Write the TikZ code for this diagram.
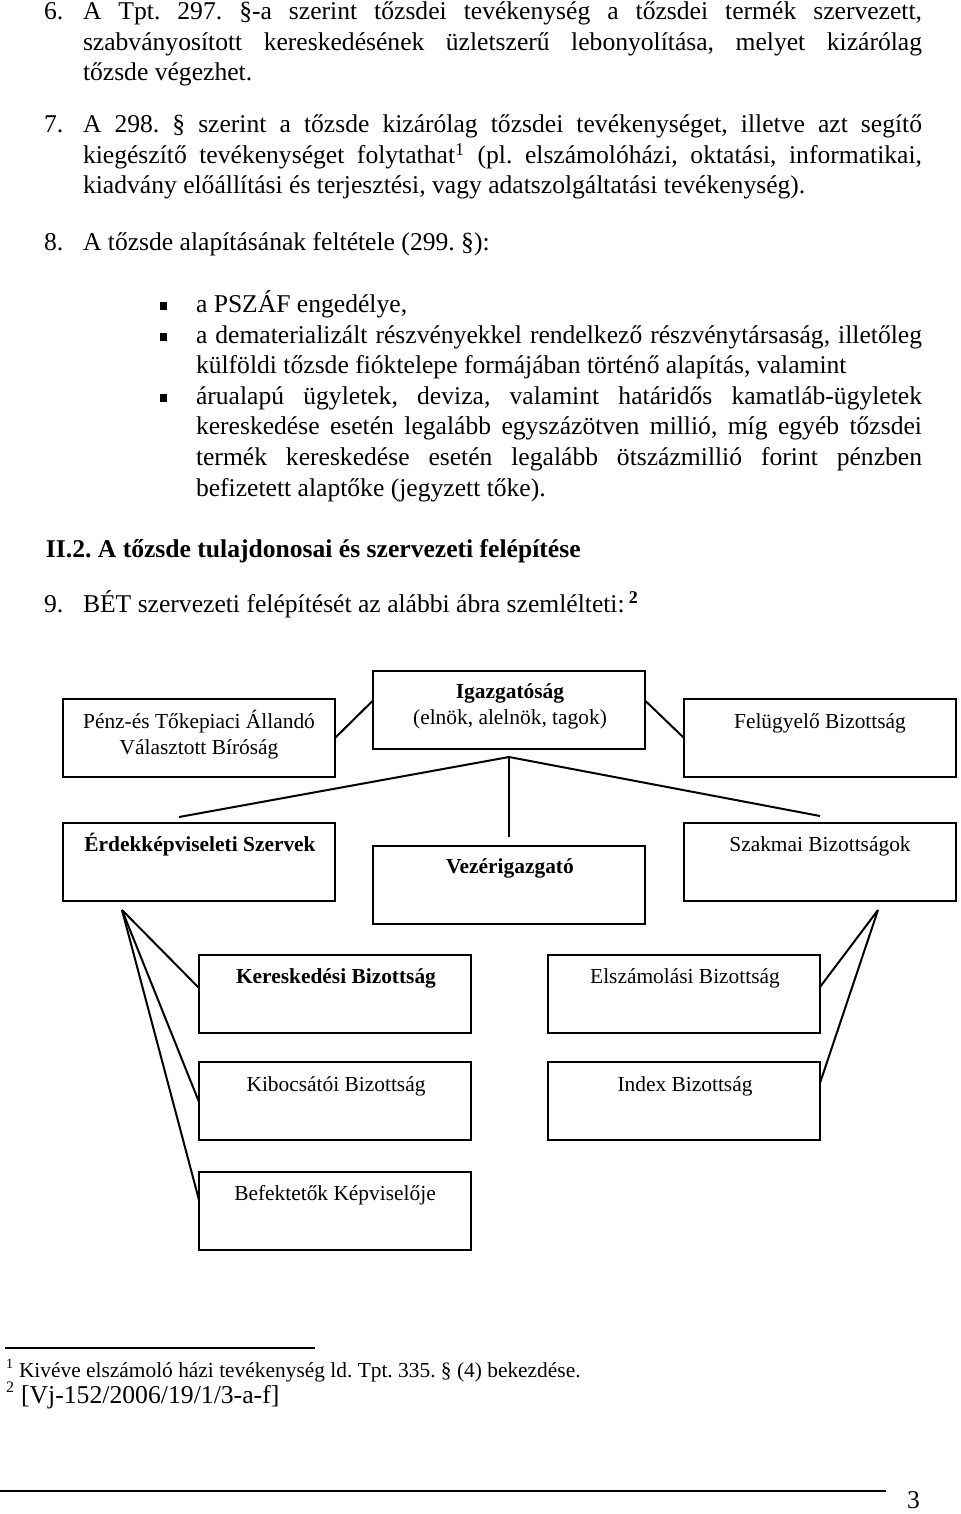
\documentclass[tikz,border=0pt]{standalone}
\usepackage{fontspec}
\setmainfont{Liberation Serif}
\usetikzlibrary{calc}
\frenchspacing
\tikzset{
  box/.style={draw, line width=1pt, minimum width=136pt, minimum height=39pt, inner sep=0pt, outer sep=0pt, anchor=north west},
  conn/.style={line width=1pt},
  body/.style={anchor=base west, inner sep=0pt, outer sep=0pt, font=\fontsize{12.8}{15}\selectfont},
  head/.style={anchor=base west, inner sep=0pt, outer sep=0pt, font=\fontsize{12.8}{15}\selectfont\bfseries},
  btxt/.style={anchor=base, inner sep=0pt, outer sep=0pt, font=\fontsize{10.7}{12}\selectfont},
  bbtxt/.style={btxt, font=\fontsize{10.7}{12}\selectfont\bfseries},
  fn/.style={anchor=base west, inner sep=0pt, outer sep=0pt},
}
\newcommand{\jl}[1]{\makebox[419.5pt][s]{#1}}
\newcommand{\jb}[1]{\makebox[363pt][s]{#1}}
\begin{document}
\begin{tikzpicture}[x=0.5pt,y=-0.5pt]
\useasboundingbox[fill=white] (0,0) rectangle (960,1514);

% --- paragraph 6 ---
\node[body] (n6) at (44,20) {6.};
\node[body] (p6a) at (83,20) {\jl{A Tpt. 297. §-a szerint tőzsdei tevékenység a tőzsdei termék szervezett,}};
\node[body] (p6b) at (83,51) {\jl{szabványosított kereskedésének üzletszerű lebonyolítása, melyet kizárólag}};
\node[body] (p6c) at (83,81) {tőzsde végezhet.};

% --- paragraph 7 ---
\node[body] (n7) at (44,133) {7.};
\node[body] (p7a) at (83,133) {\jl{A 298. § szerint a tőzsde kizárólag tőzsdei tevékenységet, illetve azt segítő}};
\node[body] (p7b) at (83,164) {\jl{kiegészítő tevékenységet folytathat\textsuperscript{1} (pl. elszámolóházi, oktatási, informatikai,}};
\node[body] (p7c) at (83,194) {kiadvány előállítási és terjesztési, vagy adatszolgáltatási tevékenység).};

% --- paragraph 8 ---
\node[body] (n8) at (44,250) {8.};
\node[body] (p8) at (83,250) {A tőzsde alapításának feltétele (299. §):};

\fill (160,302) rectangle (167,309.5);
\fill (160,333) rectangle (167,340.5);
\fill (160,394) rectangle (167,401.5);
\node[body] (b1) at (196,312) {a PSZÁF engedélye,};
\node[body] (b2a) at (196,343) {\jb{a dematerializált részvényekkel rendelkező részvénytársaság, illetőleg}};
\node[body] (b2b) at (196,373) {külföldi tőzsde fióktelepe formájában történő alapítás, valamint};
\node[body] (b3a) at (196,404) {\jb{árualapú ügyletek, deviza, valamint határidős kamatláb-ügyletek}};
\node[body] (b3b) at (196,434) {\jb{kereskedése esetén legalább egyszázötven millió, míg egyéb tőzsdei}};
\node[body] (b3c) at (196,465) {\jb{termék kereskedése esetén legalább ötszázmillió forint pénzben}};
\node[body] (b3d) at (196,496) {befizetett alaptőke (jegyzett tőke).};

% --- heading ---
\node[head] (h22) at (46,557) {II.2. A tőzsde tulajdonosai és szervezeti felépítése};

% --- paragraph 9 ---
\node[body] (n9) at (44,612) {9.};
\node[body] (p9) at (83,612) {BÉT szervezeti felépítését az alábbi ábra szemlélteti:\,\textsuperscript{\textbf{2}}};

% --- boxes ---
\node[box] (pen)   at (63,699)  {};
\node[box] (igaz)  at (373,671) {};
\node[box] (felu)  at (684,699) {};
\node[box] (erdek) at (63,823)  {};
\node[box] (vez)   at (373,846) {};
\node[box] (szak)  at (684,823) {};
\node[box] (ker)   at (199,955) {};
\node[box] (elsz)  at (548,955) {};
\node[box] (kib)   at (199,1062) {};
\node[box] (index) at (548,1062) {};
\node[box] (bef)   at (199,1172) {};

% --- box texts ---
\node[btxt] (tpen1) at (199,728) {Pénz-és Tőkepiaci Állandó};
\node[btxt] (tpen2) at (199,754) {Választott Bíróság};
\node[bbtxt] (tigaz1) at (510,698) {Igazgatóság};
\node[btxt] (tigaz2) at (510,724) {(elnök, alelnök, tagok)};
\node[btxt] (tfelu) at (820,728) {Felügyelő Bizottság};
\node[bbtxt] (terdek) at (200,851) {Érdekképviseleti Szervek};
\node[bbtxt] (tvez) at (510,873) {Vezérigazgató};
\node[btxt] (tszak) at (820,851) {Szakmai Bizottságok};
\node[bbtxt] (tker) at (336,983) {Kereskedési Bizottság};
\node[btxt] (telsz) at (685,983) {Elszámolási Bizottság};
\node[btxt] (tkib) at (336,1091) {Kibocsátói Bizottság};
\node[btxt] (tindex) at (685,1091) {Index Bizottság};
\node[btxt] (tbef) at (335,1200) {Befektetők Képviselője};

% --- connectors ---
\coordinate (hub) at ([yshift=-4pt]igaz.south);
\coordinate (efan) at ([xshift=-38.5pt,yshift=-4.5pt]erdek.south);
\coordinate (sfan) at ([xshift=29pt,yshift=-4.5pt]szak.south);

\draw[conn] (pen.east) -- ([yshift=4.75pt]igaz.west);
\draw[conn] ([yshift=4.75pt]igaz.east) -- (felu.west);
\draw[conn] (hub) -- ([yshift=4.5pt]vez.north);
\draw[conn] (hub) -- ([xshift=-10pt,yshift=3pt]erdek.north);
\draw[conn] (hub) -- ([yshift=3.5pt]szak.north);
\draw[conn] (efan) -- ([yshift=3pt]ker.west);
\draw[conn] (efan) -- ([yshift=-0.5pt]kib.west);
\draw[conn] (efan) -- ([yshift=5.5pt]bef.west);
\draw[conn] (sfan) -- ([yshift=3.5pt]elsz.east);
\draw[conn] (sfan) -- ([yshift=9pt]index.east);

% --- footnotes ---
\draw[line width=0.6pt] (5,1348) -- (315,1348);
\node[fn, font=\fontsize{7}{8}\selectfont] (fn1n) at (6,1368) {1};
\node[fn, font=\fontsize{10.7}{12}\selectfont] (fn1) at (19,1377) {Kivéve elszámoló házi tevékenység ld. Tpt. 335. § (4) bekezdése.};
\node[fn, font=\fontsize{8}{9}\selectfont] (fn2n) at (6,1392) {2};
\node[fn, font=\fontsize{12.85}{14}\selectfont] (fn2) at (21,1403) {[Vj-152/2006/19/1/3-a-f]};

% --- page footer ---
\draw[line width=0.7pt] (0,1491) -- (886,1491);
\node[fn, font=\fontsize{12.8}{15}\selectfont] (pg) at (907,1508) {3};
\end{tikzpicture}
\end{document}
